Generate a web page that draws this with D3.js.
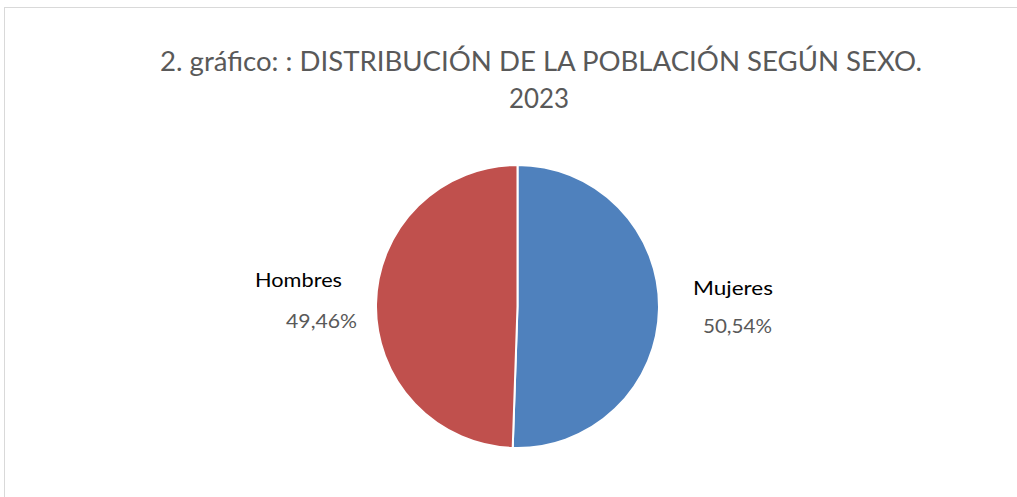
<!DOCTYPE html>
<html><head><meta charset="utf-8">
<script src="https://cdn.jsdelivr.net/npm/d3@7"></script>
<style>html,body{margin:0;padding:0;background:#fff;}svg{display:block;}</style>
</head><body>
<svg id="c" width="1017" height="497"></svg>
<script>
const titleLines = ["2. gráfico: : DISTRIBUCIÓN DE LA POBLACIÓN SEGÚN SEXO.", "2023"];
const categories = ["Mujeres", "Hombres"];
const values = [50.54, 49.46];
const colors = ["#4f81bd", "#c0504d"];

const W = 1017, H = 497;
const svg = d3.select("#c");
const font = "Lato, 'Open Sans', sans-serif";

// chart border
svg.append("rect").attr("x", 4.5).attr("y", 7.5).attr("width", W + 10).attr("height", H + 10)
  .attr("fill", "#fff").attr("stroke", "#d9d9d9").attr("stroke-width", 1);

// title
svg.append("text").attr("x", 160).attr("y", 71)
  .attr("font-family", font).attr("font-size", 27).attr("fill", "#595959")
  .attr("textLength", 762).attr("lengthAdjust", "spacingAndGlyphs").text(titleLines[0]);
svg.append("text").attr("x", 509).attr("y", 108)
  .attr("font-family", font).attr("font-size", 27).attr("fill", "#595959")
  .attr("textLength", 60).attr("lengthAdjust", "spacingAndGlyphs").text(titleLines[1]);

// pie
const cx = 517.5, cy = 306.5, R = 141.5;
const pie = d3.pie().sort(null).value(d => d);
const arcs = pie(values);
const arc = d3.arc().innerRadius(0).outerRadius(R);
const g = svg.append("g").attr("transform", `translate(${cx},${cy})`);
g.selectAll("path").data(arcs).join("path")
  .attr("d", arc).attr("fill", (d, i) => colors[i])
  .attr("stroke", "#fff").attr("stroke-width", 2).attr("stroke-linejoin", "round");

// labels
const labelArc = d3.arc().innerRadius(216).outerRadius(216);
const fmt = v => v.toFixed(2).replace(".", ",") + "%";
const offs = [ {n:[-0.5,-15], p:[4,23], nw:80, pw:69}, {n:[-3,-16], p:[20,25], nw:87, pw:71} ];
arcs.forEach((d, i) => {
  const [x, y] = labelArc.centroid(d);
  g.append("text").attr("x", x + offs[i].n[0]).attr("y", y + offs[i].n[1])
    .attr("text-anchor", "middle").attr("font-family", font).attr("font-size", 19.5)
    .attr("textLength", offs[i].nw).attr("lengthAdjust", "spacingAndGlyphs")
    .attr("fill", "#000").text(categories[i]);
  g.append("text").attr("x", x + offs[i].p[0]).attr("y", y + offs[i].p[1])
    .attr("text-anchor", "middle").attr("font-family", font).attr("font-size", 19.5)
    .attr("textLength", offs[i].pw).attr("lengthAdjust", "spacingAndGlyphs")
    .attr("fill", "#595959").text(fmt(values[i]));
});
</script>
</body></html>
